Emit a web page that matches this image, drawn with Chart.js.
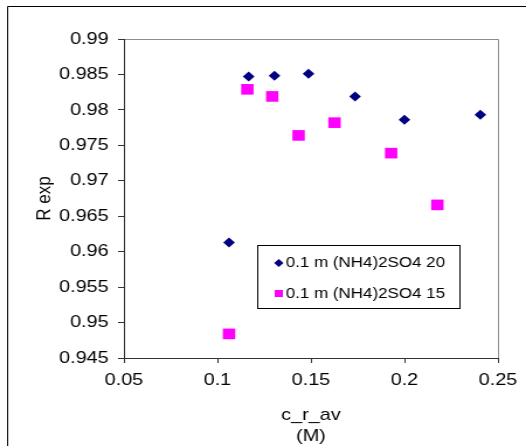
<!DOCTYPE html>
<html>
<head>
<meta charset="utf-8">
<script src="https://cdn.jsdelivr.net/npm/chart.js@4.4.1/dist/chart.umd.min.js"></script>
<style>
  html, body { margin: 0; padding: 0; background: #fff; overflow: hidden; }
  /* the plot is drawn narrow and widened, so text and markers come out a bit wide */
  #wrap { width: 450px; height: 446px; transform: scaleX(1.1689); transform-origin: 0 0; }
</style>
</head>
<body>
<div id="wrap"><canvas id="myChart"></canvas></div>
<script>
const seriesNames = ['0.1 m (NH4)2SO4 20', '0.1 m (NH4)2SO4 15'];

const cAv20 = [0.1062, 0.1167, 0.1305, 0.1487, 0.1736, 0.2000, 0.2406];
const rExp20 = [0.9613, 0.9847, 0.9848, 0.9851, 0.9819, 0.9786, 0.9793];

const cAv15 = [0.1062, 0.1160, 0.1293, 0.1434, 0.1626, 0.1929, 0.2176];
const rExp15 = [0.9484, 0.9829, 0.9819, 0.9764, 0.9782, 0.9739, 0.9666];

const xTicks = [0.05, 0.1, 0.15, 0.2, 0.25];
const yTicks = [0.945, 0.95, 0.955, 0.96, 0.965, 0.97, 0.975, 0.98, 0.985, 0.99];

const FONT = '"Liberation Sans", Arial, sans-serif';
Chart.defaults.font.family = FONT;
Chart.defaults.color = '#000';

const toPoints = (xs, ys) => xs.map((x, i) => ({ x: x, y: ys[i] }));
const fmt = v => String(Number(v.toFixed(3)));

// outer frame, plus the grey top/right edge of the plot box
const framePlugin = {
  id: 'frame',
  beforeDraw(chart) {
    const { ctx, chartArea: a } = chart;
    ctx.save();
    ctx.strokeStyle = '#000';
    ctx.lineWidth = 1;
    ctx.beginPath();
    ctx.moveTo(6.5, chart.height);
    ctx.lineTo(6.5, 6.5);
    ctx.lineTo(chart.width, 6.5);
    ctx.stroke();
    ctx.strokeStyle = '#8c8c8c';
    ctx.beginPath();
    ctx.moveTo(Math.round(a.left) + 0.5, Math.round(a.top) + 0.5);
    ctx.lineTo(Math.round(a.right) + 0.5, Math.round(a.top) + 0.5);
    ctx.lineTo(Math.round(a.right) + 0.5, Math.round(a.bottom) + 0.5);
    ctx.stroke();
    ctx.restore();
  }
};

// boxed legend sitting inside the plot
const boxLegend = {
  id: 'boxLegend',
  afterDatasetsDraw(chart) {
    const { ctx, chartArea: a } = chart;
    const x0 = Math.round(a.left + 114) + 0.5;
    const y0 = Math.round(a.top + 206) + 0.5;
    const w = 173, h = 63;
    ctx.save();
    ctx.fillStyle = '#fff';
    ctx.fillRect(x0, y0, w, h);
    ctx.strokeStyle = '#000';
    ctx.lineWidth = 1;
    ctx.strokeRect(x0, y0, w, h);
    ctx.font = '14.5px ' + FONT;
    ctx.textBaseline = 'middle';
    chart.data.datasets.forEach((ds, i) => {
      const cy = y0 + 17.5 + i * 30.5;
      const cx = x0 + 18;
      ctx.fillStyle = ds.backgroundColor;
      ctx.beginPath();
      if (ds.pointStyle === 'rectRot') {
        ctx.moveTo(cx - 4, cy);
        ctx.lineTo(cx, cy - 4);
        ctx.lineTo(cx + 4, cy);
        ctx.lineTo(cx, cy + 4);
        ctx.closePath();
      } else {
        ctx.rect(cx - 3.5, cy - 3.5, 7, 7);
      }
      ctx.fill();
      ctx.fillStyle = '#000';
      ctx.fillText(ds.label, x0 + 24, cy);
    });
    ctx.restore();
  }
};

const ctx = document.getElementById('myChart').getContext('2d');

const myChart = new Chart(ctx, {
  type: 'scatter',
  data: {
    datasets: [
      {
        label: seriesNames[0],
        data: toPoints(cAv20, rExp20),
        pointStyle: 'rectRot',
        pointRadius: 5,
        backgroundColor: '#000080',
        borderColor: '#000080',
        borderWidth: 0,
        pointBorderWidth: 0
      },
      {
        label: seriesNames[1],
        data: toPoints(cAv15, rExp15),
        pointStyle: 'rect',
        pointRadius: 7.5,
        backgroundColor: '#ff00ff',
        borderColor: '#ff00ff',
        borderWidth: 0,
        pointBorderWidth: 0
      }
    ]
  },
  options: {
    responsive: true,
    maintainAspectRatio: false,
    animation: false,
    events: [],
    layout: { padding: { left: 10, right: 24, top: 39, bottom: 0 } },
    plugins: {
      legend: { display: false },
      tooltip: { enabled: false }
    },
    scales: {
      x: {
        type: 'linear',
        min: 0.05,
        max: 0.25,
        afterBuildTicks: s => { s.ticks = xTicks.map(v => ({ value: v })); },
        afterFit: s => { s.height = 88; },
        border: { display: true, color: '#333', width: 1 },
        grid: { drawOnChartArea: false, drawTicks: true, tickLength: 5, color: '#333' },
        ticks: {
          autoSkip: false,
          maxRotation: 0,
          padding: 7,
          font: { size: 17 },
          callback: v => fmt(v)
        },
        title: {
          display: true,
          text: ['c_r_av', '(M)'],
          font: { size: 17, lineHeight: 1.25 },
          padding: { top: 0, bottom: -1 }
        }
      },
      y: {
        type: 'linear',
        min: 0.945,
        max: 0.99,
        afterBuildTicks: s => { s.ticks = yTicks.map(v => ({ value: v })); },
        afterFit: s => { s.width = 96; },
        border: { display: true, color: '#333', width: 1 },
        grid: { drawOnChartArea: false, drawTicks: true, tickLength: 5, color: '#333' },
        ticks: {
          autoSkip: false,
          padding: 8,
          font: { size: 17 },
          callback: v => fmt(v)
        },
        title: {
          display: true,
          text: 'R exp',
          font: { size: 17 },
          padding: { top: 18, bottom: 0 }
        }
      }
    }
  },
  plugins: [framePlugin, boxLegend]
});
</script>
</body>
</html>
